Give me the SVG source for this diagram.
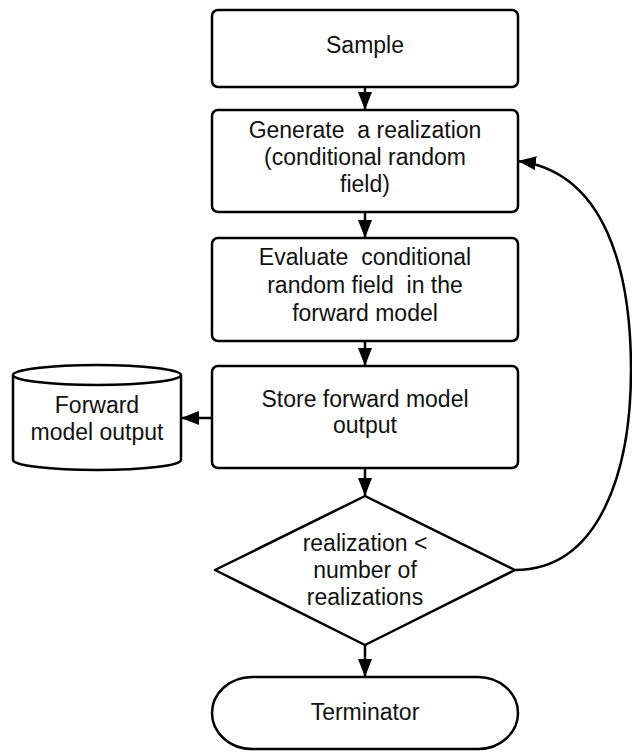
<svg xmlns="http://www.w3.org/2000/svg" width="632" height="752" viewBox="0 0 632 752">
<style>
.s{fill:#fff;stroke:#000;stroke-width:2.5}
.t{font-family:"Liberation Sans",Arial,sans-serif;font-size:23px;fill:#111;text-anchor:middle}
.c{fill:none;stroke:#000;stroke-width:2.5}
</style>
<defs>
<marker id="ah" viewBox="0 0 18 14" refX="18" refY="7" markerWidth="18" markerHeight="14" markerUnits="userSpaceOnUse" orient="auto">
<path d="M0,0 L18,7 L0,14 Z" fill="#000"/>
</marker>
</defs>
<rect width="632" height="752" fill="#fff"/>
<g id="connectors">
<line class="c" x1="365" y1="87" x2="365" y2="110" marker-end="url(#ah)"/>
<line class="c" x1="365" y1="212" x2="365" y2="238" marker-end="url(#ah)"/>
<line class="c" x1="365" y1="341" x2="365" y2="366" marker-end="url(#ah)"/>
<line class="c" x1="365" y1="468" x2="365" y2="496" marker-end="url(#ah)"/>
<line class="c" x1="365" y1="645" x2="365" y2="677" marker-end="url(#ah)"/>
<line class="c" x1="212" y1="418" x2="181" y2="418" marker-end="url(#ah)"/>
<path class="c" d="M515,570 C600,570 631,470 631,370 C631,270 605,172 518,161" marker-end="url(#ah)"/>
</g>
<g id="sample">
<rect class="s" x="212" y="10" width="306" height="77" rx="6"/>
<text class="t" x="365" y="53">Sample</text>
</g>
<g id="generate">
<rect class="s" x="212" y="110" width="306" height="102" rx="6"/>
<text class="t" xml:space="preserve"><tspan x="365" y="138">Generate  a realization</tspan><tspan x="365" y="165">(conditional random</tspan><tspan x="365" y="192">field)</tspan></text>
</g>
<g id="evaluate">
<rect class="s" x="212" y="238" width="306" height="103" rx="6"/>
<text class="t" xml:space="preserve"><tspan x="365" y="265">Evaluate  conditional</tspan><tspan x="365" y="293">random field  in the</tspan><tspan x="365" y="321">forward model</tspan></text>
</g>
<g id="store">
<rect class="s" x="212" y="366" width="306" height="102" rx="6"/>
<text class="t"><tspan x="365" y="407">Store forward model</tspan><tspan x="365" y="433">output</tspan></text>
</g>
<g id="database">
<path class="s" d="M13,375 A84,10 0 0 1 181,375 L181,460 A84,10 0 0 1 13,460 Z"/>
<path class="c" d="M13,375 A84,10 0 0 0 181,375"/>
<text class="t"><tspan x="97" y="413">Forward</tspan><tspan x="97" y="440">model output</tspan></text>
</g>
<g id="decision">
<path class="s" d="M365,496 L515,570 L365,645 L215,570 Z" stroke-linejoin="round"/>
<text class="t"><tspan x="365" y="551">realization &lt;</tspan><tspan x="365" y="578">number of</tspan><tspan x="365" y="605">realizations</tspan></text>
</g>
<g id="terminator">
<rect class="s" x="212" y="677" width="306" height="72" rx="40" ry="36"/>
<text class="t" x="365" y="720">Terminator</text>
</g>
</svg>
